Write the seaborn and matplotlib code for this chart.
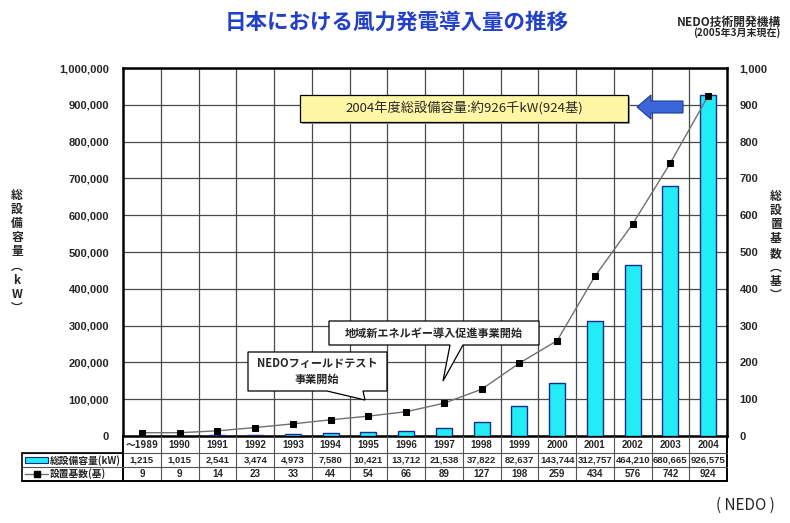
import numpy as np
import pandas as pd
import matplotlib
matplotlib.use("Agg")
import matplotlib.pyplot as plt
import matplotlib.transforms as mtransforms
from matplotlib.patches import Polygon, Rectangle
from matplotlib.lines import Line2D
import seaborn as sns

# ---- data -------------------------------------------------------------
years = ["～1989", "1990", "1991", "1992", "1993", "1994", "1995", "1996",
         "1997", "1998", "1999", "2000", "2001", "2002", "2003", "2004"]
capacity_kw = [1215, 1015, 2541, 3474, 4973, 7580, 10421, 13712,
               21538, 37822, 82637, 143744, 312757, 464210, 680665, 926575]
units = [9, 9, 14, 23, 33, 44, 54, 66, 89, 127, 198, 259, 434, 576, 742, 924]
left_ticks = list(range(0, 1000001, 100000))
right_ticks = list(range(0, 1001, 100))

df = pd.DataFrame({"year": years, "kw": capacity_kw, "units": units})

# ---- style ------------------------------------------------------------
sns.set_style("white")
JP = ["Noto Sans CJK JP", "DejaVu Sans"]
NUM = ["Liberation Sans", "DejaVu Sans"]
plt.rcParams["font.family"] = JP

W, H = 790, 523
fig = plt.figure(figsize=(W / 100, H / 100), dpi=100)
fig.patch.set_facecolor("white")


def px(x, y):
    """pixel position (from top-left) -> figure fraction"""
    return (x / W, 1 - y / H)


ax_l, ax_r, ax_t, ax_b = 123, 727, 68, 436
ax = fig.add_axes([ax_l / W, 1 - ax_b / H, (ax_r - ax_l) / W, (ax_b - ax_t) / H])

# bars: total installed capacity
sns.barplot(data=df, x="year", y="kw", ax=ax, color="#22ecf4",
            edgecolor="#1b2a8c", linewidth=1.0, width=0.43, saturation=1,
            zorder=3)
ax.set_ylim(0, 1000000)
ax.set_yticks(left_ticks)
ax.set_yticklabels([f"{v:,}" for v in left_ticks], fontfamily=NUM,
                   fontweight="bold", fontsize=8)
ax.tick_params(axis="y", length=0, pad=10)
ax.set_xticks([])
ax.set_xlabel("")
ax.set_ylabel("")

# grid
ax.set_axisbelow(True)
ax.yaxis.grid(True, color="#4a4a4a", lw=0.9)
for i in range(1, 16):
    ax.axvline(i - 0.5, color="#4a4a4a", lw=0.9, zorder=1)
for s in ax.spines.values():
    s.set_color("black")
    s.set_linewidth(1.8)

# line: number of installed units
ax2 = ax.twinx()
sns.lineplot(x=np.arange(len(units)), y=units, ax=ax2, color="#707070",
             lw=1.0, marker="s", markersize=5, markerfacecolor="black",
             markeredgecolor="black", zorder=4)
ax2.set_ylim(0, 1000)
ax2.set_yticks(right_ticks)
ax2.set_yticklabels([f"{v:,}" for v in right_ticks], fontfamily=NUM,
                    fontweight="bold", fontsize=8)
ax2.tick_params(axis="y", length=0, pad=9)
ax2.set_xlabel("")
ax2.set_ylabel("")
for s in ax2.spines.values():
    s.set_visible(False)
ax.set_xlim(-0.5, 15.5)
ax2.set_xlim(-0.5, 15.5)

# ---- data table under the axes -----------------------------------------
trans = mtransforms.blended_transform_factory(ax.transData, fig.transFigure)
line_c = "#555555"
for i in range(17):
    x = i - 0.5
    lw = 1.4 if i in (0, 16) else 0.8
    c = "black" if i in (0, 16) else line_c
    fig.add_artist(Line2D([x, x], [px(0, 436)[1], px(0, 481)[1]],
                          transform=trans, color=c, lw=lw))
for y, lw, c in [(453, 0.8, line_c), (467, 0.8, line_c), (481, 1.4, "black")]:
    fig.add_artist(Line2D([22 / W, ax_r / W], [px(0, y)[1]] * 2,
                          transform=fig.transFigure, color=c, lw=lw))
fig.add_artist(Line2D([22 / W, ax_l / W], [px(0, 453)[1]] * 2,
                      transform=fig.transFigure, color="black", lw=1.2))
fig.add_artist(Line2D([22 / W, 22 / W], [px(0, 453)[1], px(0, 481)[1]],
                      transform=fig.transFigure, color="black", lw=1.2))

for i, (yr, kw, n) in enumerate(zip(years, capacity_kw, units)):
    fig.text(i, px(0, 445)[1], yr, transform=trans, ha="center",
             va="center", fontsize=7, fontweight="bold",
             family=JP if i == 0 else NUM)
    fig.text(i, px(0, 460)[1], f"{kw:,}", transform=trans, ha="center",
             va="center", fontsize=6.8, fontweight="bold", family=NUM)
    fig.text(i, px(0, 474)[1], f"{n}", transform=trans, ha="center",
             va="center", fontsize=7, fontweight="bold", family=NUM)

# legend cells inside the table
fig.add_artist(Rectangle(px(25, 463), 23 / W, 6 / H, transform=fig.transFigure,
                         facecolor="#22ecf4", edgecolor="#1b2a8c", lw=0.8))
fig.text(*px(50, 460.5), "総設備容量(kW)", ha="left", va="center",
         fontsize=7, fontweight="bold")
fig.add_artist(Line2D([25 / W, 48 / W], [px(0, 474)[1]] * 2,
                      transform=fig.transFigure, color="#707070", lw=1.0))
fig.add_artist(Line2D([36.5 / W], [px(0, 474)[1]], transform=fig.transFigure,
                      marker="s", markersize=5, color="black"))
fig.text(*px(50, 474), "設置基数(基)", ha="left", va="center",
         fontsize=7, fontweight="bold")

# ---- titles & axis labels ----------------------------------------------
fig.text(*px(397, 22), "日本における風力発電導入量の推移", ha="center",
         va="center", fontsize=15.5, fontweight="bold", color="#2340c8")
fig.text(*px(781, 22), "NEDO技術開発機構", ha="right", va="center",
         fontsize=8.5, fontweight="bold")
fig.text(*px(781, 33), "(2005年3月末現在)", ha="right", va="center",
         fontsize=7.2, fontweight="bold")
fig.text(*px(17, 252), "総\n設\n備\n容\n量\n︵\nk\nW\n︶", ha="center",
         va="center", fontsize=8.5, fontweight="bold", linespacing=1.12)
fig.text(*px(776, 246), "総\n設\n置\n基\n数\n︵\n基\n︶", ha="center",
         va="center", fontsize=8.5, fontweight="bold", linespacing=1.12)
fig.text(*px(745, 505), "( NEDO )", ha="center", va="center", fontsize=11)

# ---- annotations ---------------------------------------------------------
fig.add_artist(Polygon([px(302, 97), px(630, 97), px(630, 124), px(302, 124)],
                       closed=True, transform=fig.transFigure,
                       facecolor="#9a9a9a", edgecolor="none"))
fig.add_artist(Polygon([px(300, 95), px(628, 95), px(628, 122), px(300, 122)],
                       closed=True, transform=fig.transFigure,
                       facecolor="#fff7a6", edgecolor="black", lw=0.9))
fig.text(*px(464, 108.5), "2004年度総設備容量:約926千kW(924基)", ha="center",
         va="center", fontsize=9.5)
fig.add_artist(Polygon([px(637, 107), px(651, 95), px(651, 101), px(683, 101),
                        px(683, 113), px(651, 113), px(651, 119)],
                       closed=True, transform=fig.transFigure,
                       facecolor="#3b66d8", edgecolor="#1b3b9a", lw=0.8))

fig.add_artist(Polygon([px(329, 321), px(539, 321), px(539, 345), px(463, 345),
                        px(443, 381), px(450, 345), px(329, 345)],
                       closed=True, transform=fig.transFigure,
                       facecolor="white", edgecolor="black", lw=0.9))
fig.text(*px(434, 333), "地域新エネルギー導入促進事業開始", ha="center",
         va="center", fontsize=8, fontweight="bold")
fig.add_artist(Polygon([px(248, 352), px(387, 352), px(387, 391), px(363, 391),
                        px(365, 400), px(327, 391), px(248, 391)],
                       closed=True, transform=fig.transFigure,
                       facecolor="white", edgecolor="black", lw=0.9))
fig.text(*px(317, 371), "NEDOフィールドテスト\n事業開始", ha="center",
         va="center", fontsize=8, fontweight="bold", linespacing=1.3)

fig.savefig("out.png", dpi=100, facecolor="white")
